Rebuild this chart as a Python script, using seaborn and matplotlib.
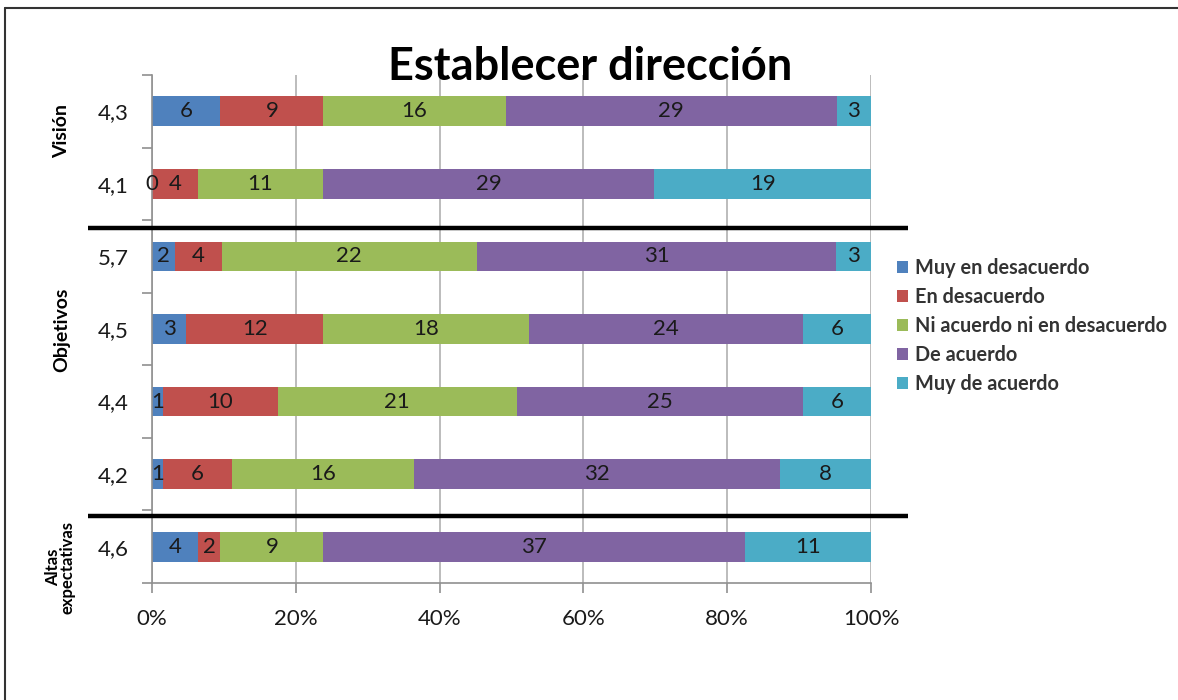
import numpy as np
import pandas as pd
import matplotlib
matplotlib.use("Agg")
import matplotlib.pyplot as plt
import seaborn as sns
from matplotlib.lines import Line2D
from matplotlib.patches import Patch

# ---- data ----
rows = ["4,3", "4,1", "5,7", "4,5", "4,4", "4,2", "4,6"]
series = ["Muy en desacuerdo", "En desacuerdo", "Ni acuerdo ni en desacuerdo",
          "De acuerdo", "Muy de acuerdo"]
muy_desacuerdo = [6, 0, 2, 3, 1, 1, 4]
desacuerdo = [9, 4, 4, 12, 10, 6, 2]
ni_ni = [16, 11, 22, 18, 21, 16, 9]
de_acuerdo = [29, 29, 31, 24, 25, 32, 37]
muy_acuerdo = [3, 19, 3, 6, 6, 8, 11]
groups = ["Visión", "Objetivos", "Altas\nexpectativas"]
x_ticks = [0, 20, 40, 60, 80, 100]
title = "Establecer dirección"

colors = ["#4F81BD", "#C0504D", "#9BBB59", "#8064A2", "#4BACC6"]

sns.set_theme(style="white")
plt.rcParams["font.family"] = ["Lato", "DejaVu Sans"]

counts = np.array([muy_desacuerdo, desacuerdo, ni_ni, de_acuerdo, muy_acuerdo], dtype=float)
pct = counts / counts.sum(axis=0) * 100
cum = np.cumsum(pct, axis=0)

fig = plt.figure(figsize=(11.78, 7.0), dpi=100)
ax = fig.add_axes([152/1178, 1-583/700, (871-152)/1178, (583-75)/700])

# gridlines
for xv in x_ticks:
    ax.axvline(xv, color="#B0B0B0", lw=1.2, zorder=0)

# stacked bars: draw cumulative from last to first
for i in range(4, -1, -1):
    df = pd.DataFrame({"row": rows, "val": cum[i]})
    sns.barplot(data=df, y="row", x="val", order=rows, orient="h",
                color=colors[i], width=0.41, saturation=1, ax=ax, zorder=2,
                edgecolor="none", linewidth=0)

# labels in segments
for i in range(5):
    for j, r in enumerate(rows):
        xc = cum[i][j] - pct[i][j] / 2
        ax.text(xc, j, f"{int(counts[i][j])}", ha="center", va="center",
                fontsize=16, color="#1a1a1a", zorder=5)

ax.set_xlim(0, 100)
ax.set_ylim(6.5, -0.5)
ax.set_xlabel("")
ax.set_ylabel("")
ax.set_xticks(x_ticks)
ax.set_xticklabels([f"{v}%" for v in x_ticks], fontsize=16, color="#1a1a1a")
ax.set_yticks(range(len(rows)))
ax.set_yticklabels(rows, fontsize=16, color="#1a1a1a")
ax.set_yticks(np.arange(-0.5, 7, 1), minor=True)
ax.tick_params(axis="y", which="major", length=0, pad=17)
ax.tick_params(axis="y", which="minor", length=7, color="#909090", width=1.2, left=True)
ax.tick_params(axis="x", which="major", length=7, color="#909090", width=1.2, bottom=True, pad=12)
for s in ["top", "right"]:
    ax.spines[s].set_visible(False)
ax.spines["left"].set_color("#909090")
ax.spines["bottom"].set_color("#909090")
ax.spines["left"].set_linewidth(1.2)
ax.spines["bottom"].set_linewidth(1.2)

# group separators
for yy in [228, 516]:
    fig.add_artist(Line2D([88/1178, 908/1178], [1-yy/700, 1-yy/700],
                          color="black", lw=3.2, solid_capstyle="butt"))

# group labels
fig.text(62/1178, 1-131/700, groups[0], rotation=90, ha="center", va="center",
         fontsize=14, fontweight="bold", color="black")
fig.text(62/1178, 1-330/700, groups[1], rotation=90, ha="center", va="center",
         fontsize=14, fontweight="bold", color="black")
fig.text(60/1178, 1-567/700, groups[2], rotation=90, ha="center", va="center",
         fontsize=12, fontweight="bold", color="black", linespacing=0.9)

# title
fig.text(590/1178, 1-67/700, title, ha="center", va="center",
         fontsize=32.5, fontweight="bold", color="black")

# legend
handles = [Patch(facecolor=c, edgecolor="none") for c in colors]
fig.legend(handles, series, loc="upper left",
           bbox_to_anchor=(879/1178, 1-240/700), frameon=False,
           handlelength=0.55, handleheight=0.55, handletextpad=0.35,
           labelspacing=0.45, labelcolor="#333333",
           prop={"weight": "bold", "size": 14.3})

# outer frame (left and top)
fig.add_artist(Line2D([5/1178, 5/1178], [0, 1-8/700], color="#333333", lw=1.5))
fig.add_artist(Line2D([5/1178, 1], [1-8/700, 1-8/700], color="#333333", lw=1.5))

fig.savefig("out.png", dpi=100)
